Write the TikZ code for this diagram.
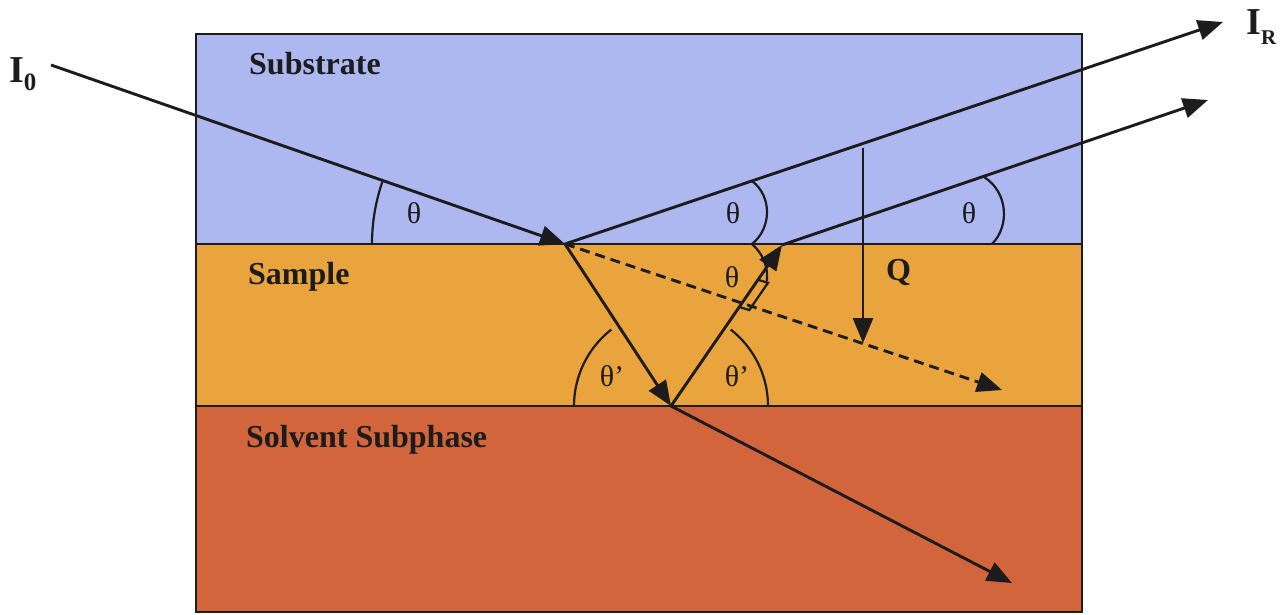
\documentclass[tikz,border=0pt]{standalone}
\usepackage{fontspec}
\setmainfont{Liberation Serif}
\usetikzlibrary{arrows.meta}
\definecolor{subc}{RGB}{174,184,240}
\definecolor{samc}{RGB}{234,164,62}
\definecolor{solc}{RGB}{210,101,60}
\definecolor{ink}{RGB}{28,28,28}
\begin{document}
\begin{tikzpicture}[x=1pt,y=1pt,
  ray/.style={draw=ink,line width=2.9pt,-{Triangle[length=25pt,width=20pt]}},
  dray/.style={ray,dash pattern=on 10pt off 6pt},
  arcst/.style={draw=ink,line width=2.2pt},
  layer/.style={anchor=base west,inner sep=0pt,font=\fontsize{32}{36}\selectfont\bfseries,text=ink},
  ang/.style={inner sep=0pt,font=\fontsize{30}{32}\selectfont,text=ink},
  big/.style={anchor=base west,inner sep=0pt,font=\fontsize{38}{40}\selectfont\bfseries,text=ink}
]
\useasboundingbox (0,0) rectangle (1285,-615);
\fill[white] (0,0) rectangle (1285,-615);
% layers
\fill[subc] (196,-34) rectangle (1082,-244);
\fill[samc] (196,-244) rectangle (1082,-406);
\fill[solc] (196,-406) rectangle (1082,-612);
\draw[ink,line width=2.4pt] (196,-34) rectangle (1082,-612);
\draw[ink,line width=2.2pt] (196,-244) -- (1082,-244);
\draw[ink,line width=2.2pt] (196,-406) -- (1082,-406);
% points
\coordinate (i0s) at (51,-65);
\coordinate (P1) at (565,-244);
\coordinate (ir) at (1223,-22);
\coordinate (B) at (671,-406);
\coordinate (P2) at (782,-245);
\coordinate (r2) at (1208,-100);
\coordinate (tr) at (1012,-583);
\coordinate (dsh) at (1002,-390);
\coordinate (qs) at (863,-148);
\coordinate (qe) at (863,-343);
% rays
\draw[ray] (i0s) -- (P1);
\draw[ray] (P1) -- (ir);
\draw[ray] (P1) -- (B);
\draw[ray] (B) -- (P2);
\draw[ray] (P2) -- (r2);
\draw[ray] (B) -- (tr);
\draw[dray] (P1) -- (dsh);
\draw[ray] (qs) -- (qe);
% angle arcs
\draw[arcst] (P1) ++(180:193) arc[start angle=180,end angle=160.8,radius=193];
\draw[arcst] (B) ++(180:97) arc[start angle=180,end angle=128,radius=97];
\draw[arcst] (B) ++(0:97) arc[start angle=0,end angle=52,radius=97];
\draw[arcst] (752,-244) .. controls (772,-228) and (772,-196) .. (752,-181);
\draw[arcst] (992,-244) .. controls (1010,-226) and (1008,-192) .. (984,-177);
\draw[arcst] (752,-244) .. controls (763,-254) and (768,-266) .. (767,-281);
\draw[arcst] (739.3,-307) -- (749.3,-310) -- (768,-282.8) -- (758,-279.8);
% labels
\node[ang] (t1) at (414,-213) {θ};
\node[ang] (t2) at (733,-213) {θ};
\node[ang] (t3) at (969,-213) {θ};
\node[ang] (t4) at (732,-277) {θ};
\node[ang] (t5) at (612,-376) {θ’};
\node[ang] (t6) at (737,-376) {θ’};
\node[layer] (sub) at (249,-75) {Substrate};
\node[layer] (sam) at (248,-284) {Sample};
\node[layer] (sol) at (246,-447) {Solvent Subphase};
\node[layer] (q) at (886,-280) {Q};
\node[big] (I0) at (9,-83) {I\raisebox{-8pt}{\fontsize{25}{25}\selectfont 0}};
\node[big] (IR) at (1246,-35) {I\raisebox{-10pt}{\fontsize{21}{21}\selectfont R}};
\end{tikzpicture}
\end{document}
